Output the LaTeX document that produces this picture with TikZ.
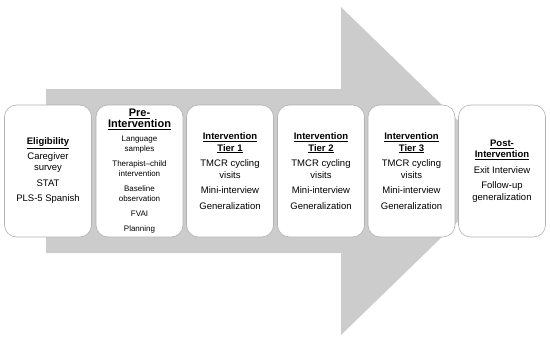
\documentclass[tikz,border=0pt]{standalone}
\usepackage{fontspec}
\setmainfont{Liberation Sans}
\newcommand\stagehead[1]{\textbf{\underline{#1}}}
\newcommand\bighead[1]{{\fontsize{11}{12}\selectfont\textbf{\underline{#1}}}}
\begin{document}
\begin{tikzpicture}[x=1pt,y=-1pt,
  stage/.style={draw=gray!60, line width=0.6pt, fill=white, rounded corners=12pt,
    minimum width=87pt, minimum height=132pt, align=center, inner sep=2pt,
    font=\fontsize{9.5}{11.5}\selectfont},
  smallstage/.style={stage, font=\fontsize{8}{10.3}\selectfont},
  bigarrow/.style={fill=gray!40, draw=none}]
\useasboundingbox (0,0) rectangle (550,340);
\fill[bigarrow] (46,89) -- (341,89) -- (341,7) -- (510,171) -- (341,335) -- (341,253) -- (46,253) -- cycle;
\node[stage] (elig) at (48,171) {\stagehead{Eligibility}\\[3pt] Caregiver\\ survey\\[4pt] STAT\\[4pt] PLS-5 Spanish};
\node[smallstage] (pre) at (139.5,171) {\bighead{Pre-}\\[1pt] \bighead{Intervention}\\[3pt] Language\\ samples\\[4.5pt] Therapist–child\\ intervention\\[4.5pt] Baseline\\ observation\\[4.5pt] FVAI\\[4.5pt] Planning};
\node[stage] (t1) at (230,171) {\stagehead{Intervention}\\ \stagehead{Tier 1}\\[4pt] TMCR cycling\\ visits\\[4pt] Mini-interview\\[4pt] Generalization};
\node[stage] (t2) at (321,171) {\stagehead{Intervention}\\ \stagehead{Tier 2}\\[4pt] TMCR cycling\\ visits\\[4pt] Mini-interview\\[4pt] Generalization};
\node[stage] (t3) at (411.5,171) {\stagehead{Intervention}\\ \stagehead{Tier 3}\\[4pt] TMCR cycling\\ visits\\[4pt] Mini-interview\\[4pt] Generalization};
\node[stage] (post) at (502,171) {\stagehead{Post-}\\ \stagehead{Intervention}\\[4pt] Exit Interview\\[4pt] Follow-up\\ generalization};
\end{tikzpicture}
\end{document}
